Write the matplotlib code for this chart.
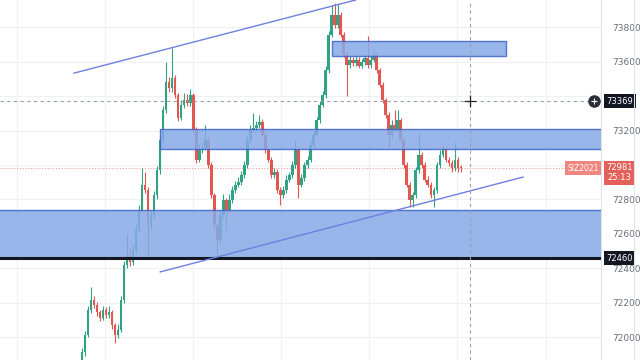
import numpy as np
import matplotlib
matplotlib.use("Agg")
import matplotlib.pyplot as plt
from matplotlib.patches import Rectangle

# closing prices, one per candle
closes = [71915, 72015, 72160, 72215, 72190, 72145, 72115, 72160, 72130, 72145,
          72070, 72015, 72045, 72215, 72420, 72480, 72435, 72505, 72625, 72740,
          72885, 72855, 72650, 72710, 72825, 72970, 73145, 73320, 73480, 73445,
          73505, 73405, 73275, 73350, 73375, 73360, 73405, 73205, 73030, 73085,
          73100, 73145, 73000, 72825, 72650, 72565, 72710, 72795, 72740, 72795,
          72855, 72885, 72900, 72940, 73000, 73145, 73205, 73215, 73230, 73250,
          73175, 73085, 73030, 72940, 72960, 72855, 72825, 72855, 72915, 72940,
          73000, 73085, 72885, 72925, 73000, 73030, 73115, 73175, 73260, 73350,
          73405, 73550, 73755, 73870, 73810, 73870, 73755, 73640, 73580, 73610,
          73590, 73610, 73575, 73595, 73620, 73580, 73610, 73640, 73550, 73465,
          73375, 73290, 73175, 73230, 73205, 73260, 73145, 73000, 72885, 72795,
          72825, 72970, 73060, 73000, 72915, 72885, 72825, 72855, 73000, 73060,
          73085, 73030, 73010, 72985, 73030, 72985, 72981]
highs = [71940, 72040, 72185, 72290, 72240, 72205, 72160, 72185, 72175, 72180,
         72160, 72085, 72080, 72240, 72445, 72600, 72520, 72540, 72660, 72770,
         72985, 72960, 72875, 72740, 72850, 72995, 73170, 73345, 73600, 73510,
         73680, 73520, 73420, 73375, 73420, 73410, 73440, 73420, 73220, 73120,
         73130, 73230, 73165, 73015, 72840, 72665, 72740, 72830, 72810, 72830,
         72880, 72910, 72930, 72965, 73025, 73170, 73230, 73300, 73255, 73290,
         73265, 73190, 73100, 73045, 72985, 72975, 72870, 72880, 72940, 72960,
         73025, 73145, 73100, 72950, 73020, 73055, 73140, 73195, 73280, 73370,
         73430, 73575, 73780, 73930, 73940, 73935, 73885, 73770, 73660, 73630,
         73625, 73630, 73625, 73615, 73640, 73750, 73630, 73660, 73655, 73565,
         73480, 73390, 73305, 73260, 73320, 73320, 73275, 73160, 73015, 72900,
         72845, 72990, 73185, 73075, 73015, 72935, 72900, 72875, 73020, 73085,
         73110, 73100, 73045, 73030, 73135, 73045, 73000]
lows = [71850, 71895, 72000, 72140, 72170, 72125, 72095, 72100, 72110, 72115,
        72050, 71965, 71995, 72030, 72200, 72400, 72415, 72420, 72490, 72610,
        72725, 72835, 72465, 72630, 72690, 72805, 72950, 73125, 73300, 73425,
        73425, 73390, 73255, 73260, 73330, 73345, 73345, 73190, 73010, 73015,
        73070, 73085, 72985, 72810, 72630, 72465, 72550, 72690, 72625, 72725,
        72780, 72840, 72870, 72885, 72925, 72985, 73130, 73190, 73200, 73215,
        73160, 73070, 73015, 72925, 72925, 72840, 72770, 72810, 72840, 72900,
        72925, 72985, 72810, 72870, 72910, 72985, 73015, 73100, 73160, 73245,
        73335, 73390, 73535, 73740, 73795, 73795, 73740, 73625, 73400, 73565,
        73575, 73575, 73560, 73560, 73580, 73565, 73565, 73595, 73535, 73450,
        73360, 73275, 73105, 73160, 73190, 73190, 73130, 72985, 72870, 72755,
        72755, 72810, 72955, 72985, 72900, 72870, 72810, 72755, 72840, 72985,
        73045, 73015, 72995, 72960, 72965, 72960, 72960]
opens = [71870] + closes[:-1]

price_ticks = [72000, 72200, 72400, 72600, 72800, 73000, 73200, 73400, 73600, 73800]
hidden_ticks = [73000, 73400]   # covered by the price labels on the scale
last_price = 72981
last_label = "72981\n25:13"
symbol = "SIZ2021"
cross_price = 73369
level_price = 72460

# zones drawn on the chart: (start candle, end candle, low, high)
zones = [(83.3, 141.0, 73632, 73719),
         (26.0, 175.0, 73092, 73209),
         (-30.0, 175.0, 72460, 72740)]
trend_upper = ([-2.7, 91.0], [73533, 73957])
trend_lower = ([26.0, 146.7], [72380, 72930])

green = "#31a384"
red = "#e2574f"
zone_fill = "#86aae6"
zone_edge = "#3f62c8"
line_blue = "#6f80e0"

fig = plt.figure(figsize=(6.4, 3.6), dpi=100)
ax = fig.add_axes([0, 0, 601 / 640, 1])
ax.set_xlim(-27.33, 172.67)
ax.set_ylim(71869, 73957)

# grid
for gx in [-21.67, 7.67, 37.0, 66.3, 95.3, 124.7, 154.3]:
    ax.axvline(gx, color="#eef0f3", lw=0.8, zorder=0)
for gy in price_ticks:
    ax.axhline(gy, color="#eef0f3", lw=0.8, zorder=0)

# candles
x = np.arange(len(closes))
o = np.array(opens)
c = np.array(closes)
cols = [green if cc >= oo else red for oo, cc in zip(o, c)]
ax.vlines(x, lows, highs, colors=cols, lw=0.8, zorder=3)
body_lo = np.minimum(o, c)
body_h = np.maximum(np.abs(c - o), 8)
ax.bar(x, body_h, bottom=body_lo, width=0.8, color=cols, lw=0, zorder=3)

# zones
for x0, x1, lo, hi in zones:
    ax.add_patch(Rectangle((x0, lo), x1 - x0, hi - lo, facecolor=zone_fill,
                           edgecolor=zone_edge, lw=1.0, alpha=0.85, zorder=4))
ax.axhline(level_price, color="#131722", lw=2.2, zorder=5)

# trend lines
ax.plot(*trend_upper, color=line_blue, lw=1.0, zorder=5)
ax.plot(*trend_lower, color=line_blue, lw=1.0, zorder=5)

# last price and crosshair
ax.axhline(last_price, color="#f2a09c", lw=0.8, ls=(0, (1, 1.5)), zorder=2)
ax.axhline(cross_price, color="#9aa0aa", lw=0.8, ls=(0, (3, 3)), zorder=6)
ax.axvline(129.0, color="#9aa0aa", lw=0.8, ls=(0, (3, 3)), zorder=6)
ax.plot([129.0], [cross_price], marker="+", ms=9, mew=0.9, color="#222222", zorder=7)

# price scale on the right
for s in ["top", "left", "bottom"]:
    ax.spines[s].set_visible(False)
ax.spines["right"].set_color("#e0e3eb")
ax.spines["right"].set_linewidth(0.8)
ax.set_xticks([])
ax.yaxis.tick_right()
ax.set_yticks(price_ticks)
ax.set_yticklabels(["" if p in hidden_ticks else str(p) for p in price_ticks])
ax.tick_params(axis="y", length=0, pad=8, labelsize=6.5, labelcolor="#6a6f7a")

trans = ax.get_yaxis_transform()
lab_x = 1.031
ax.text(lab_x, cross_price, str(cross_price), transform=trans, ha="center", va="center",
        fontsize=6, color="white", clip_on=False, zorder=10,
        bbox=dict(boxstyle="square,pad=0.3", fc="#131722", ec="none"))
ax.plot([0.988], [cross_price], transform=trans, marker="o", ms=8, mfc="#2a2e39",
        mec="#2a2e39", clip_on=False, zorder=10)
ax.plot([0.988], [cross_price], transform=trans, marker="+", ms=5, mew=0.8,
        color="white", clip_on=False, zorder=11)
ax.text(lab_x, level_price, str(level_price), transform=trans, ha="center", va="center",
        fontsize=6, color="white", clip_on=False, zorder=10,
        bbox=dict(boxstyle="square,pad=0.3", fc="#131722", ec="none"))
ax.text(lab_x, last_price + 30, last_label, transform=trans, ha="center", va="top",
        fontsize=6, color="white", clip_on=False, zorder=10, linespacing=1.15,
        bbox=dict(boxstyle="square,pad=0.3", fc="#e4605b", ec="none"))
ax.text(0.97, last_price, symbol, transform=trans, ha="center", va="center",
        fontsize=5.5, color="white", clip_on=False, zorder=10,
        bbox=dict(boxstyle="square,pad=0.3", fc="#f08680", ec="none"))

fig.add_artist(plt.Line2D([634 / 640, 634 / 640], [0, 1], color="#e0e3eb", lw=0.8))

fig.savefig("out.png", dpi=100)
